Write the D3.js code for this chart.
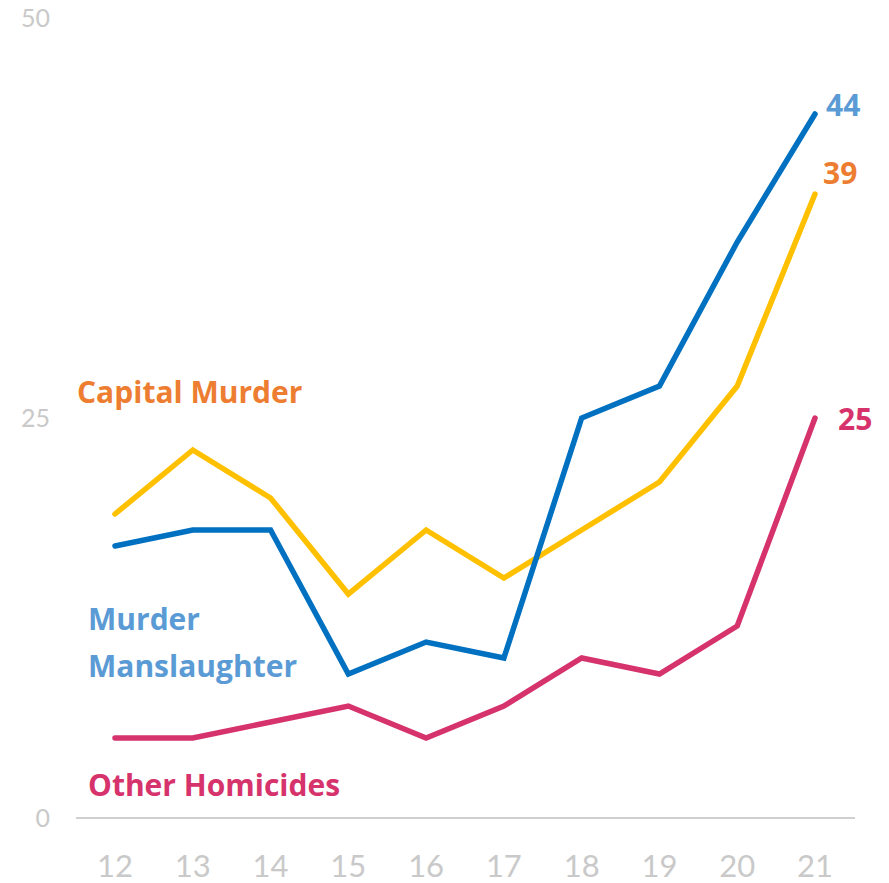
<!DOCTYPE html>
<html>
<head>
<meta charset="utf-8">
<script src="https://cdn.jsdelivr.net/npm/d3@7"></script>
<style>
  body { margin: 0; background: #fff; }
  svg { display: block; font-family: Lato, "Open Sans", sans-serif; }
  .bold { font-family: "Open Sans", Lato, sans-serif; font-weight: bold; }
</style>
</head>
<body>
<svg id="chart"></svg>
<script>
const years = ["12", "13", "14", "15", "16", "17", "18", "19", "20", "21"];
const capitalMurder = [19, 23, 20, 14, 18, 15, 18, 21, 27, 39];
const murderManslaughter = [17, 18, 18, 9, 11, 10, 25, 27, 36, 44];
const otherHomicides = [5, 5, 6, 7, 5, 7, 10, 9, 12, 25];
const yTicks = [0, 25, 50];

const width = 889;
const height = 883;

const svg = d3.select("#chart").attr("width", width).attr("height", height);

// scales
const x = d3.scalePoint().domain(years).range([115, 815]);
const y = d3.scaleLinear().domain([0, 50]).range([818, 18]);

// baseline
svg.append("line")
  .attr("x1", 76).attr("x2", 855)
  .attr("y1", y(0)).attr("y2", y(0))
  .attr("stroke", "#d0d0d0")
  .attr("stroke-width", 2);

// y tick labels
svg.append("g")
  .selectAll("text")
  .data(yTicks)
  .enter()
  .append("text")
  .attr("x", 50)
  .attr("y", (d) => y(d))
  .attr("dy", "0.35em")
  .attr("text-anchor", "end")
  .attr("fill", "#c9c9c9")
  .style("font-size", "25px")
  .text((d) => d);

// x tick labels
svg.append("g")
  .selectAll("text")
  .data(years)
  .enter()
  .append("text")
  .attr("x", (d) => x(d))
  .attr("y", 866)
  .attr("dy", "0.35em")
  .attr("text-anchor", "middle")
  .attr("fill", "#c9c9c9")
  .style("font-size", "31px")
  .text((d) => d);

const series = [
  { name: "Capital Murder", values: capitalMurder, line: "#FFC000", label: "#ED7D31" },
  { name: "Murder Manslaughter", values: murderManslaughter, line: "#0070C0", label: "#5B9BD5" },
  { name: "Other Homicides", values: otherHomicides, line: "#D6336C", label: "#D6336C" },
];

const line = d3.line()
  .x((d, i) => x(years[i]))
  .y((d) => y(d));

// lines
svg.selectAll(".series")
  .data(series)
  .enter()
  .append("path")
  .attr("class", "series")
  .attr("d", (s) => line(s.values))
  .attr("fill", "none")
  .attr("stroke", (s) => s.line)
  .attr("stroke-width", 5.5)
  .attr("stroke-linejoin", "miter")
  .attr("stroke-linecap", "round");

// end value labels
const endOffsets = { "Capital Murder": [8, -21], "Murder Manslaughter": [11, -9], "Other Homicides": [23, 1] };
svg.selectAll(".end-label")
  .data(series)
  .enter()
  .append("text")
  .attr("class", "end-label bold")
  .attr("x", (s) => x(years[years.length - 1]) + endOffsets[s.name][0])
  .attr("y", (s) => y(s.values[s.values.length - 1]) + endOffsets[s.name][1])
  .attr("dy", "0.35em")
  .attr("fill", (s) => s.label)
  .style("font-size", "30px")
  .text((s) => s.values[s.values.length - 1]);

// series name labels
const nameLabels = [
  { lines: ["Capital Murder"], color: "#ED7D31", x: 77, y: 403 },
  { lines: ["Murder", "Manslaughter"], color: "#5B9BD5", x: 88, y: 630 },
  { lines: ["Other Homicides"], color: "#D6336C", x: 88, y: 796 },
];
nameLabels.forEach((lbl) => {
  lbl.lines.forEach((t, i) => {
    svg.append("text")
      .attr("class", "bold")
      .attr("x", lbl.x)
      .attr("y", lbl.y + i * 47)
      .attr("fill", lbl.color)
      .style("font-size", "30px")
      .text(t);
  });
});
</script>
</body>
</html>
